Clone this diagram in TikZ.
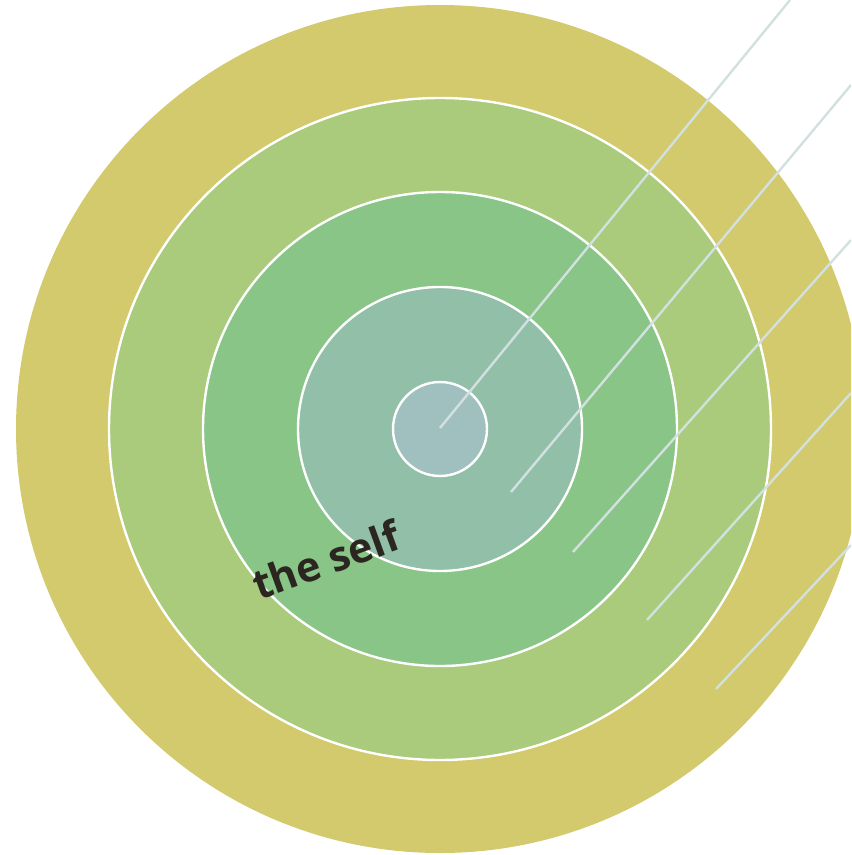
\documentclass[tikz,border=0pt]{standalone}
\usepackage{fontspec}
\setmainfont{Open Sans}
\definecolor{ringA}{HTML}{D2CA6C}
\definecolor{ringB}{HTML}{A9CB7B}
\definecolor{ringC}{HTML}{88C587}
\definecolor{ringD}{HTML}{91BFA8}
\definecolor{ringE}{HTML}{A0C0C0}
\definecolor{rayc}{HTML}{D3E0E0}
\definecolor{txtc}{HTML}{2B2620}
\begin{document}
\begin{tikzpicture}[x=0.75pt,y=-0.75pt,
  ring/.style={draw=white,line width=1.8pt},
  ray/.style={draw=rayc,line width=1.8pt}]
\useasboundingbox (0,0) rectangle (851,855);
\clip (0,0) rectangle (851,855);
\fill[ringA] (440,429) circle (424);
\filldraw[ring,fill=ringB] (440,429) circle (331);
\filldraw[ring,fill=ringC] (440,429) circle (237);
\filldraw[ring,fill=ringD] (440,429) circle (142);
\filldraw[ring,fill=ringE] (440,429) circle (47);
\coordinate (r1a) at (440,428); \coordinate (r1b) at (790,0);
\coordinate (r2a) at (511,492); \coordinate (r2b) at (851,85);
\coordinate (r3a) at (573,552); \coordinate (r3b) at (851,240);
\coordinate (r4a) at (647,620); \coordinate (r4b) at (851,393);
\coordinate (r5a) at (716,689); \coordinate (r5b) at (851,545);
\draw[ray] (r1a) -- (r1b);
\draw[ray] (r2a) -- (r2b);
\draw[ray] (r3a) -- (r3b);
\draw[ray] (r4a) -- (r4b);
\draw[ray] (r5a) -- (r5b);
\node[text=txtc,font=\bfseries\fontsize{31}{36}\selectfont,rotate=20,inner sep=0pt] (self) at (326,560) {the self};
\end{tikzpicture}
\end{document}
